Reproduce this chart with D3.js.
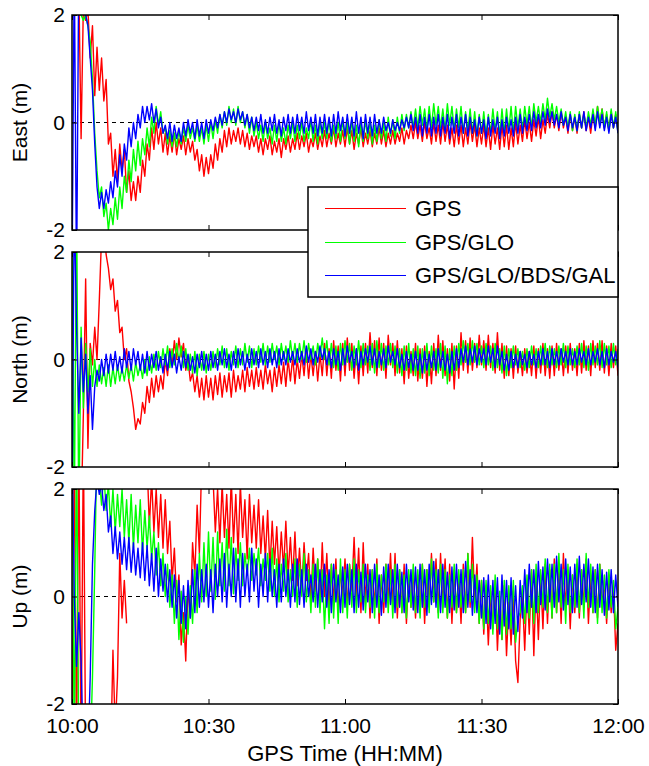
<!DOCTYPE html>
<html>
<head>
<meta charset="utf-8">
<script src="https://cdn.jsdelivr.net/npm/d3@7"></script>
<style>
  body { margin: 0; background: #ffffff; }
</style>
</head>
<body>
<div id="chart"></div>
<script>
// Axis setup (minutes after 10:00)
const STEP_MIN = 0.5;
const TICK_MINUTES = [0, 30, 60, 90, 120];
const TICK_LABELS = ["10:00", "10:30", "11:00", "11:30", "12:00"];
const Y_TICKS = [-2, 0, 2];
const SERIES_NAMES = ["GPS", "GPS/GLO", "GPS/GLO/BDS/GAL"];
const SERIES_COLORS = ["#ff0000", "#00ff00", "#0000ff"];
const PANEL_LABELS = ["East (m)", "North (m)", "Up (m)"];

// East errors (m), one value every 30 s
const EAST_GPS = [
  3, 3, 3, 2.5, -0.3, 2.2, 1.9, 2.1, 1.2, 1.8, 0.5, 1.4, 0.6, 1.2, 0.4, 0.8, -0.4, -0.2, -1.0, -0.5,
  -1.1, -0.4, -0.9, -0.5, -1.3, -0.9, -1.45, -1.1, -1.45, -1.0, -1.3, -0.7, -1.0, -0.4, -0.7, -0.1, -0.5, 0.0, -0.4, -0.1,
  -0.55, -0.2, -0.6, -0.25, -0.55, -0.2, -0.6, -0.3, -0.5, -0.25, -0.6, -0.3, -0.55, -0.35, -0.7, -0.5, -0.9, -0.6, -1.0, -0.65,
  -0.95, -0.6, -0.85, -0.4, -0.7, -0.3, -0.55, -0.15, -0.45, -0.1, -0.4, -0.15, -0.35, -0.1, -0.4, -0.15, -0.45, -0.2, -0.5, -0.25,
  -0.45, -0.25, -0.55, -0.3, -0.6, -0.3, -0.5, -0.25, -0.6, -0.35, -0.55, -0.3, -0.65, -0.3, -0.5, -0.25, -0.55, -0.3, -0.5, -0.2,
  -0.5, -0.25, -0.45, -0.2, -0.55, -0.3, -0.45, -0.2, -0.5, -0.25, -0.45, -0.15, -0.45, -0.2, -0.4, -0.1, -0.45, -0.2, -0.4, -0.15,
  -0.45, -0.1, -0.4, -0.15, -0.5, -0.2, -0.4, -0.1, -0.45, -0.2, -0.4, -0.15, -0.45, -0.2, -0.4, -0.1, -0.4, -0.15, -0.45, -0.2,
  -0.4, -0.15, -0.4, -0.2, -0.35, -0.1, -0.4, -0.15, -0.3, -0.05, -0.3, 0.0, -0.3, -0.05, -0.35, 0.0, -0.3, -0.1, -0.4, 0.0,
  -0.35, -0.05, -0.4, 0.0, -0.35, -0.05, -0.4, -0.1, -0.45, -0.05, -0.4, -0.05, -0.45, -0.1, -0.4, 0.0, -0.35, -0.05, -0.45, -0.1,
  -0.4, -0.05, -0.45, -0.1, -0.5, -0.05, -0.4, -0.1, -0.5, -0.05, -0.45, -0.05, -0.5, -0.1, -0.45, 0.0, -0.4, -0.05, -0.35, 0.05,
  -0.3, 0.0, -0.35, 0.05, -0.25, 0.1, -0.3, 0.05, -0.2, 0.15, -0.1, 0.2, -0.1, 0.15, -0.15, 0.2, -0.1, 0.1, -0.2, 0.15,
  -0.15, 0.1, -0.2, 0.15, -0.1, 0.2, -0.15, 0.1, -0.2, 0.15, -0.1, 0.3, -0.05, 0.25, -0.1, 0.15, -0.15, 0.2, -0.1, 0.15,
  -0.15
];
const EAST_GLO = [
  3, 3, 2.5, 2.2, 2.0, 1.9, 2.0, 1.8, 1.5, 0.8, -0.2, -0.9, -1.4, -1.2, -1.75, -1.5, -2.0, -1.6, -1.9, -1.4,
  -1.8, -1.2, -1.6, -1.0, -1.3, -0.7, -1.1, -0.5, -0.9, -0.35, -0.8, -0.3, -0.6, -0.1, -0.45, 0.1, -0.2, 0.3, -0.05, 0.2,
  -0.2, -0.1, -0.4, -0.15, -0.45, -0.2, -0.45, -0.15, -0.4, -0.1, -0.35, -0.05, -0.3, -0.1, -0.35, -0.05, -0.35, -0.1, -0.4, -0.05,
  -0.35, 0.0, -0.3, 0.05, -0.2, 0.15, -0.1, 0.2, -0.05, 0.3, 0.0, 0.25, -0.05, 0.3, 0.0, 0.2, -0.1, 0.15, -0.2, 0.1,
  -0.25, 0.0, -0.3, -0.05, -0.35, 0.0, -0.3, -0.1, -0.4, -0.05, -0.35, 0.0, -0.35, -0.1, -0.4, -0.05, -0.3, 0.0, -0.35, -0.05,
  -0.3, 0.0, -0.35, -0.1, -0.3, 0.05, -0.35, -0.05, -0.4, 0.0, -0.3, 0.0, -0.3, 0.05, -0.35, -0.05, -0.3, 0.0, -0.35, 0.05,
  -0.3, 0.0, -0.4, 0.05, -0.35, -0.05, -0.45, 0.0, -0.35, 0.05, -0.3, 0.0, -0.4, -0.05, -0.35, 0.05, -0.3, 0.0, -0.35, 0.1,
  -0.25, 0.05, -0.3, 0.1, -0.2, 0.15, -0.15, 0.15, -0.1, 0.2, -0.1, 0.25, -0.1, 0.3, -0.05, 0.25, -0.15, 0.3, -0.1, 0.35,
  -0.05, 0.3, -0.1, 0.25, -0.15, 0.35, -0.05, 0.3, -0.15, 0.25, -0.1, 0.3, -0.2, 0.2, -0.15, 0.25, -0.2, 0.2, -0.25, 0.15,
  -0.2, 0.2, -0.25, 0.15, -0.2, 0.25, -0.15, 0.2, -0.25, 0.25, -0.2, 0.25, -0.15, 0.3, -0.2, 0.3, -0.1, 0.25, -0.15, 0.3,
  -0.05, 0.3, -0.1, 0.35, 0.0, 0.3, 0.0, 0.35, 0.05, 0.45, 0.1, 0.35, 0.05, 0.3, 0.0, 0.25, -0.05, 0.2, -0.1, 0.2,
  -0.15, 0.15, -0.15, 0.2, -0.1, 0.15, -0.1, 0.2, -0.05, 0.25, -0.05, 0.3, 0.0, 0.25, -0.1, 0.2, -0.15, 0.25, -0.1, 0.2,
  -0.2
];
const EAST_ALL = [
  -3, 3, -3, 3, 2.5, 2.2, 2.0, 1.8, 1.2, 0.6, -0.4, -1.2, -1.6, -1.3, -1.6, -1.25, -1.5, -1.1, -1.4, -0.9,
  -1.2, -0.6, -1.0, -0.4, -0.7, -0.1, -0.45, 0.0, -0.3, 0.15, -0.1, 0.3, 0.0, 0.3, 0.05, 0.35, 0.0, 0.25, -0.1, 0.1,
  -0.2, -0.05, -0.3, 0.0, -0.35, -0.05, -0.3, -0.1, -0.35, 0.0, -0.25, 0.05, -0.2, 0.0, -0.3, 0.05, -0.25, 0.0, -0.3, 0.05,
  -0.2, 0.05, -0.15, 0.1, -0.1, 0.15, -0.05, 0.2, 0.0, 0.25, 0.05, 0.2, 0.0, 0.25, 0.05, 0.2, -0.05, 0.15, -0.1, 0.1,
  -0.15, 0.1, -0.15, 0.15, -0.2, 0.05, -0.2, 0.1, -0.15, 0.15, -0.2, 0.05, -0.25, 0.1, -0.15, 0.15, -0.2, 0.1, -0.2, 0.15,
  -0.15, 0.1, -0.2, 0.2, -0.15, 0.1, -0.2, 0.15, -0.25, 0.1, -0.2, 0.15, -0.2, 0.1, -0.25, 0.15, -0.2, 0.2, -0.15, 0.1,
  -0.25, 0.15, -0.2, 0.1, -0.25, 0.2, -0.2, 0.1, -0.3, 0.15, -0.2, 0.1, -0.25, 0.15, -0.2, 0.05, -0.2, 0.1, -0.15, 0.0,
  -0.2, 0.05, -0.15, 0.0, -0.15, 0.05, -0.1, 0.1, -0.1, 0.15, -0.15, 0.1, -0.2, 0.15, -0.25, 0.1, -0.2, 0.15, -0.25, 0.1,
  -0.2, 0.15, -0.25, 0.1, -0.2, 0.15, -0.3, 0.1, -0.2, 0.15, -0.25, 0.1, -0.2, 0.15, -0.25, 0.1, -0.2, 0.05, -0.25, 0.1,
  -0.2, 0.05, -0.3, 0.1, -0.25, 0.05, -0.2, 0.1, -0.3, 0.05, -0.25, 0.1, -0.2, 0.05, -0.25, 0.1, -0.2, 0.15, -0.2, 0.1,
  -0.15, 0.15, -0.15, 0.2, -0.1, 0.15, -0.1, 0.2, -0.05, 0.25, 0.0, 0.2, -0.05, 0.15, -0.1, 0.2, -0.05, 0.1, -0.15, 0.15,
  -0.1, 0.1, -0.15, 0.15, -0.1, 0.2, -0.15, 0.1, -0.1, 0.15, -0.15, 0.2, -0.1, 0.15, -0.15, 0.1, -0.2, 0.15, -0.1, 0.1,
  -0.2
];

// North errors (m)
const NORTH_GPS = [
  -3, -3, -3, -3, -3, -1.0, 1.5, -1.65, 0.3, -0.1, 0.6, 0.0, 1.1, 2.3, 2.6, 1.95, 1.7, 1.3, 1.5, 0.9,
  1.1, 0.5, 0.6, 0.0, 0.2, -0.4, -0.6, -0.9, -1.3, -1.1, -1.2, -0.8, -1.0, -0.5, -0.8, -0.35, -0.7, -0.3, -0.6, -0.3,
  -0.55, 0.0, -0.3, 0.2, -0.1, 0.35, 0.0, 0.4, 0.05, 0.3, -0.2, 0.0, -0.4, -0.25, -0.6, -0.3, -0.7, -0.35, -0.75, -0.3,
  -0.7, -0.35, -0.75, -0.3, -0.65, -0.25, -0.7, -0.3, -0.6, -0.25, -0.7, -0.2, -0.6, -0.3, -0.55, -0.2, -0.6, -0.15, -0.5, -0.2,
  -0.55, -0.15, -0.5, -0.2, -0.55, -0.1, -0.45, -0.2, -0.6, -0.15, -0.5, -0.1, -0.45, -0.05, -0.5, 0.0, -0.4, 0.05, -0.45, 0.0,
  -0.35, 0.1, -0.3, 0.2, -0.35, 0.1, -0.3, 0.15, -0.4, 0.1, -0.3, 0.3, -0.3, 0.2, -0.35, 0.35, -0.2, 0.25, -0.4, 0.3,
  -0.3, 0.4, -0.2, 0.3, -0.35, 0.2, -0.45, 0.25, -0.3, 0.3, -0.25, 0.5, -0.15, 0.35, -0.3, 0.4, -0.2, 0.3, -0.35, 0.45,
  -0.1, 0.3, -0.3, 0.35, -0.25, 0.2, -0.45, 0.25, -0.35, 0.15, -0.3, 0.3, -0.4, 0.2, -0.35, 0.25, -0.5, 0.15, -0.45, 0.3,
  -0.3, 0.45, -0.2, 0.35, -0.3, 0.2, -0.4, 0.3, -0.55, 0.25, -0.35, 0.5, -0.2, 0.35, -0.25, 0.4, -0.2, 0.3, -0.15, 0.45,
  -0.1, 0.35, -0.2, 0.45, -0.15, 0.3, -0.25, 0.5, -0.2, 0.3, -0.35, 0.25, -0.3, 0.2, -0.35, 0.25, -0.25, 0.15, -0.3, 0.2,
  -0.25, 0.15, -0.3, 0.25, -0.35, 0.2, -0.25, 0.3, -0.3, 0.2, -0.35, 0.25, -0.3, 0.3, -0.2, 0.2, -0.3, 0.25, -0.25, 0.3,
  -0.2, 0.2, -0.3, 0.3, -0.25, 0.35, -0.2, 0.25, -0.3, 0.35, -0.15, 0.3, -0.2, 0.35, -0.25, 0.25, -0.3, 0.3, -0.15, 0.25,
  -0.3
];
const NORTH_GLO = [
  3, -3, 3, -3, 0.6, -0.9, 0.3, -0.6, 0.2, -0.5, 0.0, -0.5, -0.1, -0.45, -0.15, -0.5, -0.1, -0.5, -0.15, -0.45,
  -0.1, -0.4, -0.15, -0.4, -0.1, -0.35, -0.1, -0.4, -0.05, -0.3, -0.1, -0.35, 0.0, -0.3, 0.05, -0.25, 0.1, -0.2, 0.15, -0.15,
  0.2, -0.1, 0.25, -0.15, 0.2, -0.1, 0.3, -0.05, 0.25, -0.15, 0.2, -0.2, 0.1, -0.25, 0.15, -0.3, 0.1, -0.2, 0.15, -0.25,
  0.1, -0.2, 0.15, -0.15, 0.2, -0.1, 0.25, -0.15, 0.2, -0.2, 0.15, -0.1, 0.25, -0.15, 0.2, -0.1, 0.3, -0.05, 0.25, -0.15,
  0.2, -0.1, 0.25, -0.05, 0.3, -0.1, 0.25, -0.05, 0.3, 0.0, 0.25, -0.1, 0.3, 0.0, 0.25, -0.05, 0.35, 0.0, 0.3, -0.05,
  0.3, 0.0, 0.35, -0.05, 0.3, 0.0, 0.25, -0.1, 0.3, 0.05, 0.4, 0.0, 0.35, -0.1, 0.3, -0.15, 0.25, -0.2, 0.3, -0.1,
  0.35, -0.05, 0.3, -0.2, 0.25, -0.1, 0.35, -0.15, 0.3, -0.1, 0.25, -0.2, 0.3, -0.25, 0.35, -0.15, 0.3, -0.2, 0.25, -0.1,
  0.3, -0.15, 0.25, -0.25, 0.2, -0.3, 0.25, -0.2, 0.3, -0.25, 0.2, -0.3, 0.25, -0.35, 0.2, -0.25, 0.3, -0.3, 0.25, -0.2,
  0.2, -0.25, 0.3, -0.35, 0.25, -0.45, 0.2, -0.3, 0.25, -0.2, 0.3, -0.1, 0.35, -0.05, 0.3, -0.1, 0.35, -0.05, 0.3, -0.1,
  0.25, -0.15, 0.3, -0.1, 0.25, -0.2, 0.3, -0.15, 0.2, -0.25, 0.25, -0.3, 0.2, -0.15, 0.25, -0.1, 0.2, -0.15, 0.15, -0.2,
  0.2, -0.15, 0.25, -0.1, 0.2, -0.15, 0.25, -0.1, 0.3, -0.15, 0.25, -0.1, 0.2, -0.15, 0.25, -0.1, 0.3, -0.15, 0.25, -0.1,
  0.2, -0.15, 0.25, -0.1, 0.3, -0.15, 0.25, -0.2, 0.3, -0.1, 0.25, -0.1, 0.35, -0.15, 0.3, -0.1, 0.25, -0.15, 0.3, -0.1,
  0.2
];
const NORTH_ALL = [
  -3, 3, 0.6, -1.0, 0.4, -0.6, 0.1, -1.0, -0.3, -1.3, -0.5, -0.2, -0.4, 0.0, -0.3, 0.1, -0.25, 0.1, -0.2, 0.15,
  -0.2, 0.05, -0.25, 0.2, -0.15, 0.15, -0.2, 0.2, -0.1, 0.15, -0.2, 0.1, -0.25, 0.15, -0.2, 0.1, -0.15, 0.15, -0.2, 0.05,
  -0.25, 0.1, -0.2, 0.15, -0.15, 0.1, -0.25, 0.05, -0.2, 0.15, -0.15, 0.1, -0.2, 0.05, -0.25, 0.1, -0.15, 0.15, -0.2, 0.1,
  -0.2, 0.15, -0.15, 0.1, -0.2, 0.15, -0.1, 0.2, -0.15, 0.1, -0.2, 0.15, -0.15, 0.2, -0.1, 0.15, -0.2, 0.1, -0.15, 0.2,
  -0.1, 0.15, -0.15, 0.2, -0.1, 0.15, -0.15, 0.2, -0.1, 0.15, -0.15, 0.2, -0.1, 0.15, -0.1, 0.2, -0.05, 0.15, -0.1, 0.2,
  -0.05, 0.15, -0.1, 0.25, -0.05, 0.2, -0.1, 0.15, -0.05, 0.25, 0.0, 0.2, -0.1, 0.15, -0.15, 0.2, -0.1, 0.15, -0.2, 0.2,
  -0.1, 0.25, -0.05, 0.15, -0.15, 0.2, -0.2, 0.15, -0.1, 0.2, -0.05, 0.25, -0.1, 0.2, -0.15, 0.15, -0.1, 0.2, -0.15, 0.25,
  -0.05, 0.15, -0.1, 0.2, -0.15, 0.1, -0.2, 0.15, -0.15, 0.1, -0.2, 0.15, -0.2, 0.1, -0.25, 0.15, -0.2, 0.1, -0.15, 0.15,
  -0.2, 0.2, -0.15, 0.15, -0.2, 0.1, -0.25, 0.15, -0.2, 0.2, -0.15, 0.2, -0.05, 0.25, -0.1, 0.2, -0.05, 0.25, -0.1, 0.2,
  -0.05, 0.2, -0.1, 0.25, -0.05, 0.2, -0.15, 0.25, -0.1, 0.15, -0.2, 0.1, -0.2, 0.15, -0.15, 0.1, -0.15, 0.15, -0.1, 0.1,
  -0.15, 0.15, -0.1, 0.1, -0.15, 0.15, -0.1, 0.2, -0.1, 0.15, -0.15, 0.2, -0.1, 0.15, -0.1, 0.2, -0.05, 0.15, -0.1, 0.2,
  -0.1, 0.15, -0.1, 0.2, -0.05, 0.15, -0.1, 0.2, -0.1, 0.15, -0.05, 0.2, -0.1, 0.15, -0.15, 0.2, -0.1, 0.15, -0.05, 0.15,
  -0.15
];

// Up errors (m), null where the solution is missing
const UP_GPS = [
  -3, 3, -3, 3, -3, 3, -3, -3, -3, -3, -3, -3, -3, -3, -3, -3, -3, -3, -1.0, -2.5,
  -1.5, 0.8, -0.4, 0.3, -0.5, null, null, null, null, null, null, null, null, 2.5, 1.3, 2.2, 1.2, 2.0, 1.1, 1.9,
  0.9, 1.8, 0.8, 1.4, 0.3, 0.9, -0.1, 0.4, -0.9, -0.3, -1.2, 0.2, -0.4, 1.0, 0.4, 1.7, 0.8, 2.5, 3, 3,
  3, 3, 2.2, 1.2, 2.0, 1.0, 2.1, 1.1, 1.9, 0.9, 2.2, 1.0, 1.9, 0.8, 2.1, 1.1, 1.8, 0.7, 1.9, 1.0,
  1.7, 0.9, 1.8, 0.8, 1.5, 0.7, 1.6, 0.5, 1.4, 0.6, 1.3, 0.4, 1.2, 0.5, 1.4, 0.4, 1.1, 0.3, 1.2, 0.2,
  0.9, 0.1, 1.0, 0.3, 0.8, -0.1, 0.9, 0.1, 0.7, -0.2, 1.0, 0.0, 0.8, -0.2, 0.6, -0.1, 0.7, -0.3, 0.5, 0.0,
  0.7, -0.2, 0.6, 0.1, 1.1, 0.0, 0.9, -0.3, 1.0, -0.1, 0.6, -0.4, 0.5, -0.2, 0.7, -0.5, 0.4, -0.3, 0.6, -0.1,
  0.8, -0.2, 0.8, -0.4, 0.5, -0.3, 0.6, -0.5, 0.4, -0.2, 0.5, -0.4, 0.4, -0.3, 0.6, -0.5, 0.5, -0.2, 0.8, -0.1,
  0.7, -0.3, 0.8, -0.2, 0.7, -0.4, 0.6, -0.5, 0.5, -0.3, 0.4, -0.5, 0.6, -0.3, 0.8, -0.2, 1.1, -0.1, 0.6, -0.5,
  0.3, -0.7, 0.2, -0.9, 0.1, -0.6, 0.3, -1.0, 0.0, -0.8, 0.2, -1.1, -0.1, -0.9, 0.1, -1.2, -1.6, -0.4, 0.0, -1.0,
  0.2, -0.7, 0.5, -1.1, 0.3, -0.8, 0.4, -0.6, 0.6, -0.5, 0.5, -0.4, 0.7, -0.3, 0.6, -0.5, 0.8, -0.2, 0.5, -0.6,
  0.4, -0.3, 0.6, -0.4, 0.5, -0.2, 0.7, -0.5, 0.4, -0.3, 0.5, -0.4, 0.6, -0.2, 0.3, -0.5, 0.4, -0.3, 0.2, -1.0,
  -0.5
];
const UP_GLO = [
  3, -3, 3, -3, -3, -3, -3, -3, -3, -1.5, 0.5, 3, 2.2, 1.7, 2.3, 1.6, 2.1, 1.3, 2.0, 1.2,
  1.9, 1.3, 2.0, 1.1, 1.8, 1.0, 1.9, 0.9, 1.7, 1.0, 1.8, 0.8, 1.6, 0.9, 1.5, 0.7, 1.2, 0.4, 1.0, 0.2,
  0.8, 0.0, 0.6, -0.2, 0.4, -0.5, 0.3, -0.8, 0.1, -0.85, 0.0, -0.7, 0.2, -0.5, 0.5, -0.3, 0.8, -0.1, 1.0, 0.0,
  1.2, 0.1, 1.1, -0.05, 1.2, 0.2, 1.0, 0.1, 1.25, 0.2, 1.1, 0.05, 0.9, 0.3, 1.0, 0.2, 0.8, 0.4, 0.9, 0.3,
  0.8, 0.4, 0.9, 0.2, 0.7, 0.3, 0.8, 0.1, 0.9, 0.0, 0.7, -0.1, 0.6, 0.1, 0.8, -0.1, 0.5, 0.0, 0.7, -0.2,
  0.6, 0.0, 0.8, -0.1, 0.5, -0.3, 0.6, -0.2, 0.7, -0.3, 0.5, -0.6, 0.4, -0.5, 0.6, -0.4, 0.5, -0.5, 0.7, -0.3,
  0.5, -0.4, 0.6, -0.2, 0.7, -0.3, 0.5, -0.1, 0.6, -0.3, 0.4, -0.2, 0.5, -0.4, 0.6, -0.3, 0.4, -0.1, 0.6, -0.3,
  0.5, -0.4, 0.6, -0.2, 0.5, -0.3, 0.4, -0.4, 0.5, -0.2, 0.6, -0.3, 0.5, -0.4, 0.6, -0.2, 0.5, -0.3, 0.7, -0.1,
  0.5, -0.4, 0.6, -0.3, 0.5, -0.4, 0.4, -0.2, 0.6, -0.3, 0.5, -0.2, 0.5, -0.3, 0.8, -0.1, 0.6, -0.3, 0.4, -0.5,
  0.3, -0.6, 0.3, -0.5, 0.2, -0.7, 0.4, -0.6, 0.1, -0.8, 0.3, -0.7, 0.2, -0.6, 0.3, -0.85, -0.4, -0.3, 0.2, -0.5,
  0.4, -0.4, 0.5, -0.5, 0.6, -0.3, 0.5, -0.2, 0.7, -0.3, 0.6, -0.4, 0.6, -0.3, 0.8, -0.2, 0.5, -0.5, 0.6, -0.3,
  0.4, -0.2, 0.7, -0.3, 0.5, -0.4, 0.8, -0.2, 0.6, -0.3, 0.5, -0.5, 0.6, -0.3, 0.4, -0.4, 0.5, -0.2, 0.3, -0.6,
  -0.2
];
const UP_ALL = [
  3, 0.0, -1.3, -0.3, -1.2, -3, -3, -3, -1.5, 0.6, 1.6, 2.2, 1.9, 2.1, 1.6, 1.9, 1.2, 1.5, 0.8, 1.3,
  0.7, 1.2, 0.6, 1.1, 0.5, 1.1, 0.45, 1.0, 0.4, 0.9, 0.35, 1.0, 0.3, 0.95, 0.2, 0.8, 0.1, 0.9, 0.0, 0.7,
  0.1, 0.6, -0.1, 0.5, -0.2, 0.4, -0.4, 0.3, -0.5, 0.2, -0.6, 0.3, -0.4, 0.5, -0.3, 0.6, -0.2, 0.5, -0.1, 0.6,
  -0.2, 0.5, -0.3, 0.6, 0.0, 0.7, -0.1, 0.8, -0.2, 0.6, 0.0, 0.9, -0.1, 0.7, -0.2, 0.8, 0.0, 0.6, -0.1, 0.9,
  0.1, 0.7, -0.2, 0.6, 0.0, 0.8, -0.1, 0.7, 0.0, 0.5, -0.2, 0.6, -0.1, 0.7, 0.0, 0.5, -0.2, 0.6, -0.1, 0.7,
  -0.15, 0.5, -0.2, 0.6, 0.0, 0.4, -0.1, 0.6, -0.2, 0.5, -0.1, 0.6, -0.2, 0.5, -0.3, 0.6, -0.1, 0.4, -0.3, 0.55,
  -0.2, 0.6, -0.15, 0.5, -0.3, 0.6, -0.2, 0.45, -0.25, 0.6, -0.1, 0.5, -0.3, 0.6, -0.2, 0.4, -0.35, 0.55, -0.2, 0.6,
  -0.15, 0.5, -0.3, 0.6, -0.2, 0.45, -0.3, 0.6, -0.1, 0.5, -0.25, 0.55, -0.3, 0.6, -0.2, 0.5, -0.35, 0.6, -0.15, 0.65,
  -0.2, 0.5, -0.3, 0.6, -0.2, 0.45, -0.3, 0.55, -0.25, 0.6, -0.2, 0.5, -0.3, 0.65, -0.2, 0.5, -0.35, 0.4, -0.3, 0.3,
  -0.4, 0.35, -0.5, 0.4, -0.6, 0.3, -0.5, 0.35, -0.7, 0.4, -0.55, 0.3, -0.6, 0.35, -0.7, 0.2, -0.65, 0.3, -0.4, 0.5,
  -0.3, 0.6, -0.2, 0.5, -0.3, 0.65, -0.15, 0.55, -0.25, 0.7, -0.1, 0.6, -0.2, 0.75, -0.1, 0.6, -0.25, 0.7, -0.15, 0.55,
  -0.3, 0.6, -0.2, 0.75, -0.15, 0.6, -0.1, 0.7, -0.2, 0.55, -0.3, 0.6, -0.2, 0.5, -0.35, 0.45, -0.25, 0.5, -0.3, 0.4,
  -0.2
];

const PANEL_SERIES = [
  [EAST_GPS, EAST_GLO, EAST_ALL],
  [NORTH_GPS, NORTH_GLO, NORTH_ALL],
  [UP_GPS, UP_GLO, UP_ALL]
];

// Frame dimensions
let FRAME_WIDTH = 649;
let FRAME_HEIGHT = 766;
let MARGINS = {left: 72, right: 31};
let PANEL_TOPS = [15, 252, 489];
let PANEL_HEIGHT = 215;
let FONT = "'Liberation Sans', Arial, Helvetica, sans-serif";
let FONT_SIZE = 21;
let BIG_FONT_SIZE = 22;

const SVG = d3.select("#chart")
              .append("svg")
              .attr("width", FRAME_WIDTH)
              .attr("height", FRAME_HEIGHT)
              .style("display", "block");

// scales shared by all three panels
const X_SCALE = d3.scaleLinear()
                  .domain([0, 120])
                  .range([MARGINS.left, FRAME_WIDTH - MARGINS.right]);

const Y_SCALE = d3.scaleLinear()
                  .domain([-2, 2])
                  .range([PANEL_HEIGHT, 0]);

const LINE = d3.line()
               .defined((d) => {return d !== null})
               .x((d, i) => {return X_SCALE(i * STEP_MIN)})
               .y((d) => {return Y_SCALE(d)});

PANEL_SERIES.forEach((seriesList, p) => {
    let panel = SVG.append("g")
                   .attr("transform", "translate(0," + PANEL_TOPS[p] + ")");

    // clip lines to the plot box
    panel.append("clipPath")
         .attr("id", "clip" + p)
         .append("rect")
         .attr("x", MARGINS.left)
         .attr("y", 0)
         .attr("width", X_SCALE(120) - MARGINS.left)
         .attr("height", PANEL_HEIGHT);

    // dashed zero line
    panel.append("line")
         .attr("x1", X_SCALE(0))
         .attr("x2", X_SCALE(120))
         .attr("y1", Y_SCALE(0))
         .attr("y2", Y_SCALE(0))
         .attr("stroke", "#000")
         .attr("stroke-width", 1)
         .attr("stroke-dasharray", "4,4");

    // GPS first, four systems on top
    panel.append("g")
         .attr("clip-path", "url(#clip" + p + ")")
         .selectAll("path")
         .data(seriesList)
         .enter()
         .append("path")
            .attr("d", (d) => {return LINE(d)})
            .attr("fill", "none")
            .attr("stroke", (d, i) => {return SERIES_COLORS[i]})
            .attr("stroke-width", 1.4)
            .attr("stroke-linejoin", "round");

    // ticks on all four sides, pointing in
    let bottomAxis = d3.axisBottom(X_SCALE)
                       .tickValues(TICK_MINUTES)
                       .tickSize(-5)
                       .tickPadding(14)
                       .tickFormat((d, i) => {return p == 2 ? TICK_LABELS[i] : ""});

    panel.append("g")
         .attr("transform", "translate(0," + PANEL_HEIGHT + ")")
         .call(bottomAxis)
         .attr("font-size", FONT_SIZE)
         .attr("font-family", FONT);

    panel.append("g")
         .call(d3.axisTop(X_SCALE).tickValues(TICK_MINUTES).tickSize(-5).tickFormat(""));

    panel.append("g")
         .attr("transform", "translate(" + MARGINS.left + ",0)")
         .call(d3.axisLeft(Y_SCALE).tickValues(Y_TICKS).tickSize(-5).tickPadding(7)
                 .tickFormat((d) => {return String(d)}))
         .attr("font-size", FONT_SIZE)
         .attr("font-family", FONT);

    panel.append("g")
         .attr("transform", "translate(" + X_SCALE(120) + ",0)")
         .call(d3.axisRight(Y_SCALE).tickValues(Y_TICKS).tickSize(-5).tickFormat(""));

    panel.selectAll(".domain").remove();
    panel.selectAll(".tick line").attr("stroke", "#000");
    panel.selectAll(".tick text").attr("fill", "#000");

    // box
    panel.append("rect")
         .attr("x", MARGINS.left)
         .attr("y", 0)
         .attr("width", X_SCALE(120) - MARGINS.left)
         .attr("height", PANEL_HEIGHT)
         .attr("fill", "none")
         .attr("stroke", "#000")
         .attr("stroke-width", 1.5);

    // y axis title
    panel.append("text")
         .attr("transform", "translate(27," + (PANEL_HEIGHT / 2) + ") rotate(-90)")
         .attr("text-anchor", "middle")
         .attr("font-family", FONT)
         .attr("font-size", FONT_SIZE)
         .text(PANEL_LABELS[p]);
});

// x axis title
SVG.append("text")
   .attr("x", (X_SCALE(0) + X_SCALE(120)) / 2)
   .attr("y", 761)
   .attr("text-anchor", "middle")
   .attr("font-family", FONT)
   .attr("font-size", BIG_FONT_SIZE)
   .text("GPS Time (HH:MM)");

// legend, sits over the first two panels
let LEGEND = SVG.append("g")
                .attr("transform", "translate(308,187)");

LEGEND.append("rect")
      .attr("width", X_SCALE(120) - 308)
      .attr("height", 110)
      .attr("fill", "#fff")
      .attr("stroke", "#000")
      .attr("stroke-width", 1.5);

let legendRows = LEGEND.selectAll("g.item")
                       .data(SERIES_NAMES)
                       .enter()
                       .append("g")
                       .attr("class", "item")
                       .attr("transform", (d, i) => {return "translate(0," + [21.5, 55.5, 88.5][i] + ")"});

legendRows.append("line")
          .attr("x1", 17)
          .attr("x2", 98)
          .attr("stroke", (d, i) => {return SERIES_COLORS[i]})
          .attr("stroke-width", 1);

legendRows.append("text")
          .attr("x", 107)
          .attr("dy", "0.35em")
          .attr("font-family", FONT)
          .attr("font-size", BIG_FONT_SIZE)
          .text((d) => {return d});
</script>
</body>
</html>
